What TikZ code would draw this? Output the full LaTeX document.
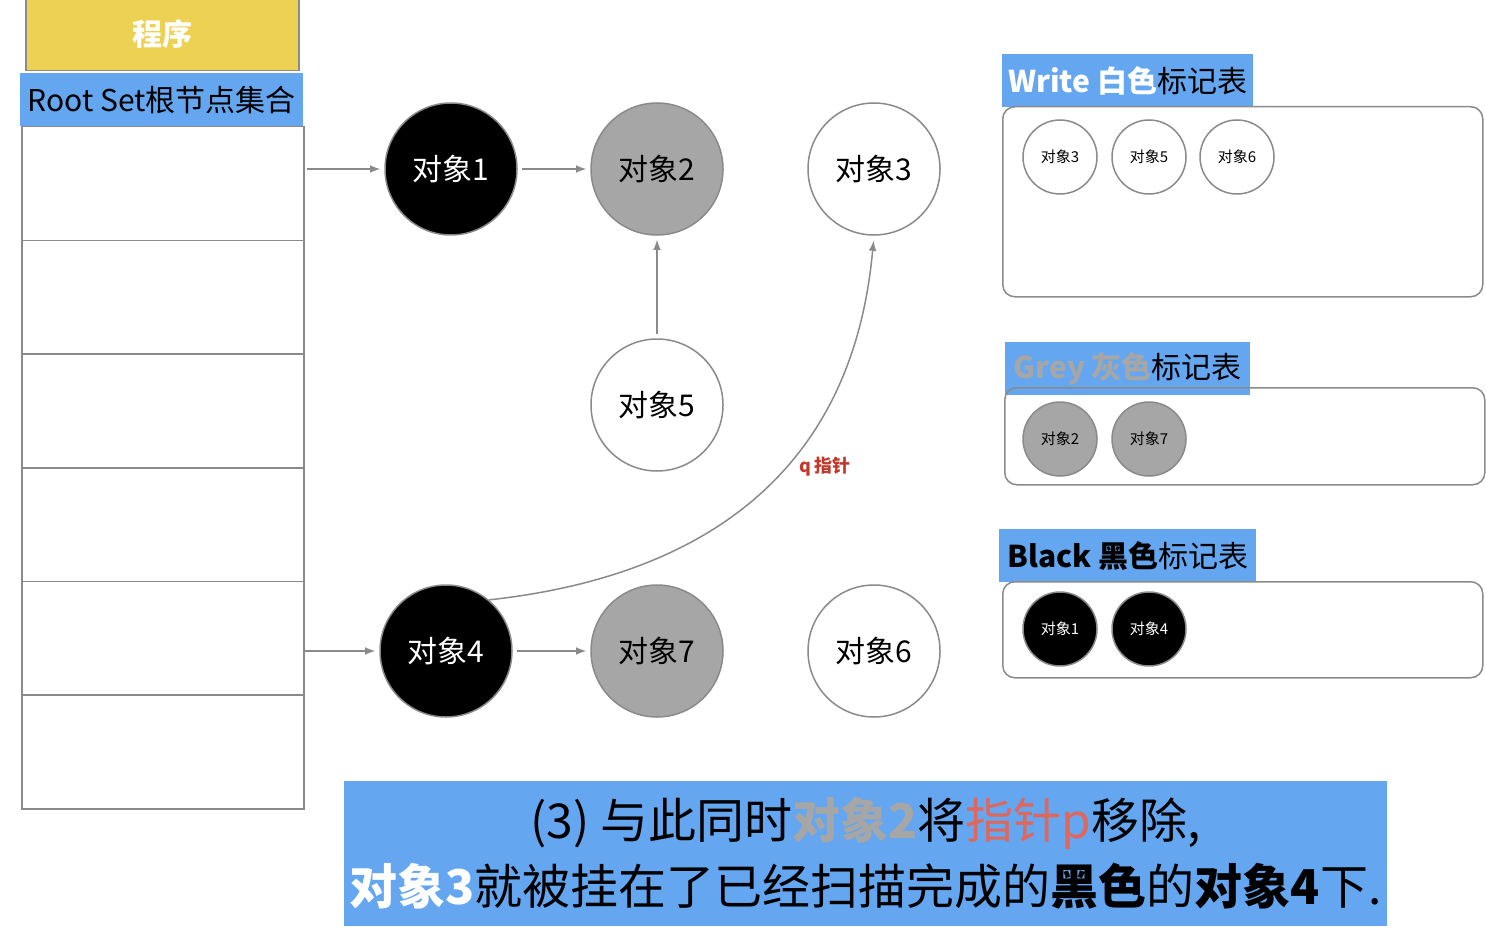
\documentclass[tikz,border=0pt]{standalone}
\usepackage{fontspec}
\setmainfont{Noto Sans CJK SC}
\usetikzlibrary{arrows,positioning}

\definecolor{markblue}{HTML}{64A6F0}
\definecolor{progyellow}{HTML}{EDD152}
\definecolor{objgrey}{HTML}{A5A6A5}
\definecolor{edgegrey}{HTML}{8A8A8A}
\definecolor{ptrred}{HTML}{C0392B}
\definecolor{ptrpink}{HTML}{E0675A}

\begin{document}
\begin{tikzpicture}[>=latex,
            x=0.5pt, y=-0.5pt,
            obj/.style={circle, draw=edgegrey, line width=0.75pt, minimum size=66pt,
                        inner sep=0pt, font=\fontsize{15}{15}\selectfont},
            whiteobj/.style={obj, fill=white},
            greyobj/.style={obj, fill=objgrey},
            blackobj/.style={obj, fill=black, text=white},
            mini/.style={minimum size=37pt, font=\fontsize{7.5}{7.5}\selectfont},
            link/.style={->, draw=edgegrey, line width=0.75pt, shorten <=2pt, shorten >=2pt},
            cell/.style={draw=edgegrey, line width=0.75pt, minimum width=141pt,
                         minimum height=56.83pt, inner sep=0pt, anchor=north west},
            header/.style={fill=markblue, minimum height=26.5pt, inner sep=0pt,
                           anchor=north west, font=\fontsize{15}{15}\selectfont},
            markbox/.style={draw=edgegrey, line width=0.75pt, rounded corners=6pt,
                            anchor=north west, inner sep=0pt}]

        \useasboundingbox (0,0) rectangle (1486,936);

        % program and root set
        \node[fill=progyellow, draw=edgegrey, line width=0.75pt, anchor=north west,
              minimum width=136.5pt, minimum height=37pt, inner sep=0pt, text=white,
              font=\fontsize{15}{15}\selectfont\bfseries] (prog) at (25,-4) {程序};
        \node[header, minimum width=141.5pt, font=\fontsize{15}{15}\selectfont]
              (root) at (20,73) {Root Set根节点集合};
        \foreach \i in {1,...,6}
            \node[cell] (row\i) at (21,{126+(\i-1)*113.67}) {};

        % objects
        \node[blackobj] (1) at (451,169) {对象1};
        \node[greyobj]  (2) at (657,169) {对象2};
        \node[whiteobj] (3) at (874,169) {对象3};
        \node[whiteobj] (5) at (657,405) {对象5};
        \node[blackobj] (4) at (446,651) {对象4};
        \node[greyobj]  (7) at (657,651) {对象7};
        \node[whiteobj] (6) at (874,651) {对象6};

        \draw[link, shorten <=1pt] (row1.east |- 1) -- (1);
        \draw[link, shorten <=0pt] (row5.east |- 4) -- (4);
        \path (1) edge[link] (2)
              (5) edge[link] (2)
              (4) edge[link] (7);
        \draw[link, shorten <=0pt, shorten >=2.5pt]
              (4.50) .. controls +(320,-35) and +(-12,130) .. (3.south);
        \node[text=ptrred, font=\fontsize{9}{9}\selectfont\bfseries] (qptr) at (825,467) {q 指针};

        % write table
        \node[header, minimum width=125.5pt] (whead) at (1002,54)
              {{\bfseries\color{white}Write 白色}标记表};
        \node[markbox, minimum width=240pt, minimum height=95pt] (wbox) at (1002,106) {};
        \node[whiteobj, mini] (w3) at (1060,157) {对象3};
        \node[whiteobj, mini] (w5) at (1149,157) {对象5};
        \node[whiteobj, mini] (w6) at (1237,157) {对象6};

        % grey table
        \node[header, minimum width=122.5pt] (ghead) at (1005,342)
              {{\bfseries\color{objgrey}Grey 灰色}标记表};
        \node[markbox, minimum width=240pt, minimum height=48.5pt] (gbox) at (1004,387) {};
        \node[greyobj, mini] (g2) at (1060,439) {对象2};
        \node[greyobj, mini] (g7) at (1149,439) {对象7};

        % black table
        \node[header, minimum width=128.5pt] (bhead) at (999,529)
              {{\bfseries Black 黑色}标记表};
        \node[markbox, minimum width=240pt, minimum height=48pt] (bbox) at (1002,581) {};
        \node[blackobj, mini] (b1) at (1060,629) {对象1};
        \node[blackobj, mini] (b4) at (1149,629) {对象4};

        % caption
        \node[fill=markblue, minimum width=521.5pt, minimum height=72.5pt, inner sep=0pt,
              align=center, font=\fontsize{24}{33}\selectfont] (note) at (865.5,853.5)
              {(3) 与此同时{\bfseries\color{objgrey}对象2}将{\color{ptrpink}指针p}移除,\\
               {\bfseries\color{white}对象3}就被挂在了已经扫描完成的{\bfseries 黑色}的{\bfseries 对象4}下.};

    \end{tikzpicture}
\end{document}
